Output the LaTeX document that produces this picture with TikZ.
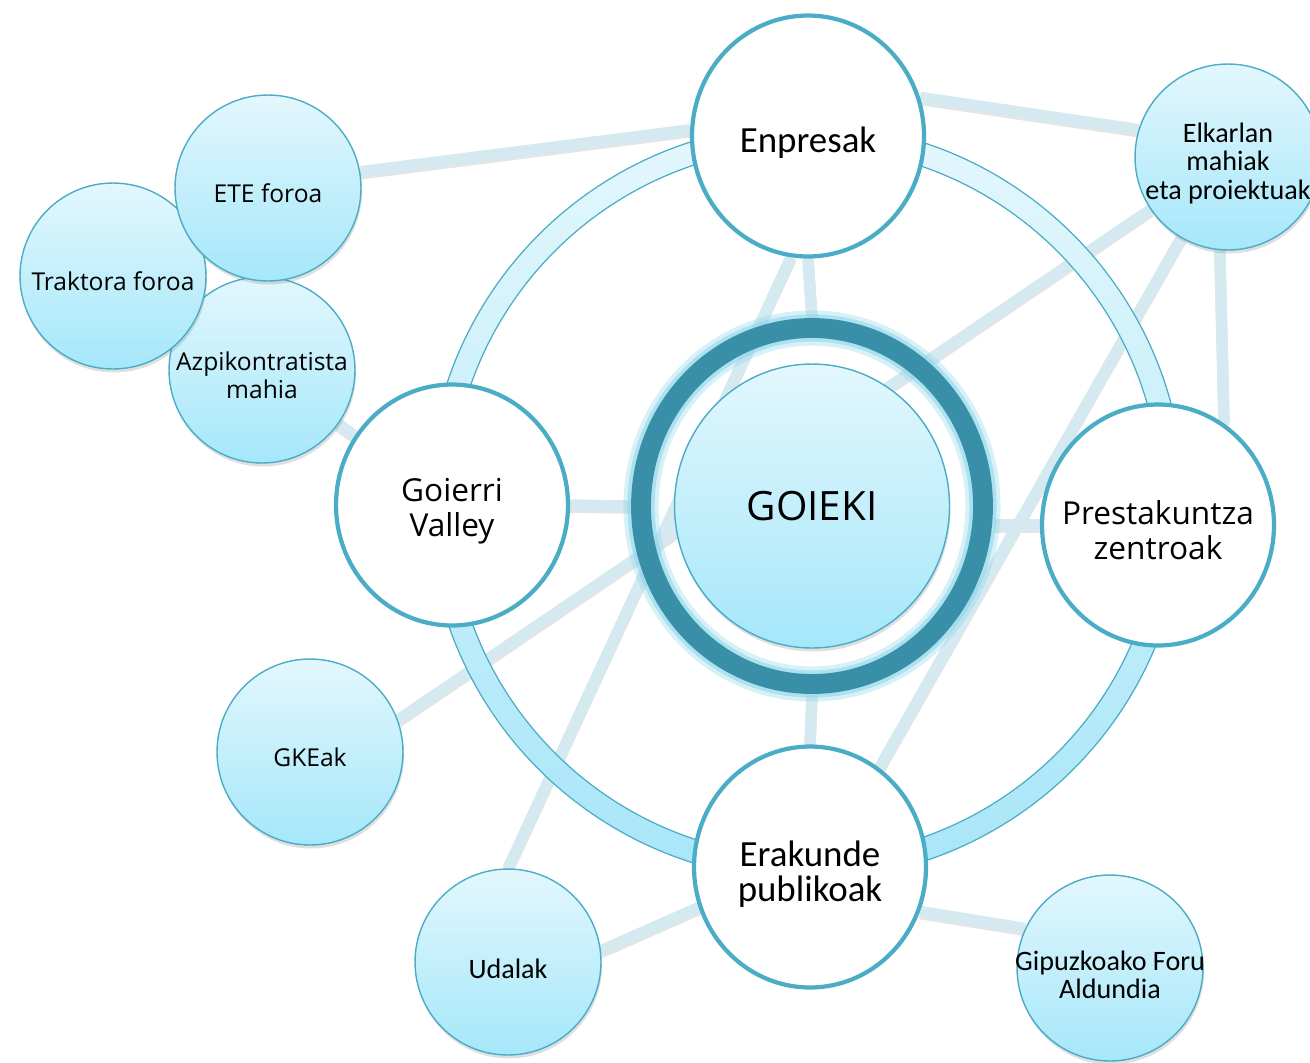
\documentclass[tikz,border=0pt]{standalone}
\usepackage{fontspec}
\setmainfont{Open Sans}
\newfontfamily\carlito{Carlito}
\usetikzlibrary{positioning,shadows,backgrounds,shapes.geometric}

\definecolor{aqua}{HTML}{4BACC6}
\definecolor{aquadark}{HTML}{3A8FA8}
\definecolor{aquaglow}{HTML}{8FD6EA}
\definecolor{bubtop}{HTML}{E3F7FD}
\definecolor{bubbot}{HTML}{A5E7FA}
\definecolor{ringtop}{HTML}{E4F7FC}
\definecolor{ringbot}{HTML}{A8E6F8}
\definecolor{conn}{HTML}{D5E9F0}
\newcommand{\lift}{\rule{0pt}{\dimexpr0.75em+6.5pt\relax}}

\begin{document}
\begin{tikzpicture}[x=0.02cm, y=-0.02cm,
    hub/.style={ellipse, draw=aqua, line width=2.4pt, fill=white, minimum width=4.64cm,
      minimum height=4.82cm, inner sep=-0.6cm, align=center, font=\fontsize{18}{20}\selectfont},
    hubc/.style={hub, font=\carlito\fontsize{21}{20}\selectfont},
    bub/.style={circle, draw=aqua, line width=0.8pt, top color=bubtop, bottom color=bubbot,
      minimum size=3.72cm, inner sep=-0.3cm, align=center, font=\fontsize{14}{16}\selectfont,
      drop shadow={opacity=0.25, shadow xshift=0.6pt, shadow yshift=-2pt}},
    bubc/.style={bub, font=\carlito\fontsize{16}{16}\selectfont},
    core/.style={bub, ellipse, minimum width=5.5cm, minimum height=5.68cm,
      font=\fontsize{23}{26}\selectfont},
    link/.style={conn, line width=6.5pt,
      preaction={draw=black!10, line width=6.5pt, transform canvas={yshift=-1.2pt}}},
  ]
  \useasboundingbox (0,0) rectangle (1310,1062);

  \node[bub] (azp) at (262,370) {\lift Azpikontratista\\mahia};
  \node[bub] (tra) at (113,276) {\lift Traktora foroa};
  \node[bub] (ete) at (268,188) {\lift ETE foroa};
  \node[bub] (gke) at (310,752) {\lift GKEak};
  \node[bubc] (uda) at (508,962) {\lift Udalak};
  \node[bubc] (gip) at (1110,968) {\lift Gipuzkoako Foru\\Aldundia};
  \node[bubc] (elk) at (1228,157) {\lift Elkarlan\\mahiak\\eta proiektuak};

  \node[hubc] (enp) at (808,136) {\lift Enpresak};
  \node[hub] (goi) at (452,505) {\lift Goierri\\Valley};
  \node[hub] (pre) at (1158,525) {\lift Prestakuntza\\zentroak};
  \node[hubc] (eru) at (810,867) {\lift Erakunde\\publikoak};

  \node[core] (gok) at (812,506) {GOIEKI};
  \node[ellipse, minimum width=7.26cm, minimum height=7.54cm] (rng) at (812,506) {};

  \begin{pgfonlayer}{background}
    \draw[link] (ete.10) -- (enp.177);
    \draw[link] (enp.19) -- (elk.163);
    \draw[link] (enp.south) -- (rng.north);
    \draw[link] (rng.south) -- (eru.north);
    \draw[link] (goi.east) -- (rng.west);
    \draw[link] (pre.west) -- (pre.west -| rng.east);
    \draw[link] (azp) -- (goi);
    \draw[link] (gke.20) -- (elk);
    \draw[link] (uda.north) -- (enp.262);
    \draw[link] (elk.240) -- (eru.55);
    \draw[link] (elk.265) -- (pre.57);
    \draw[link] (uda.7) -- (eru.200);
    \draw[link] (eru.338) -- (gip.155);

    \shade[top color=ringtop, bottom color=ringbot, even odd rule]
      (806,502) circle (378) circle (355);
    \draw[aqua, line width=0.7pt] (806,502) circle (378) circle (355);

    \draw[aquaglow, line width=20pt, opacity=0.35] (rng.center) circle [x radius=171, y radius=178];
    \draw[aquaglow, line width=15.5pt, opacity=0.6] (rng.center) circle [x radius=171, y radius=178];
    \draw[aquadark, line width=11.3pt] (rng.center) circle [x radius=171, y radius=178];
  \end{pgfonlayer}
\end{tikzpicture}
\end{document}
